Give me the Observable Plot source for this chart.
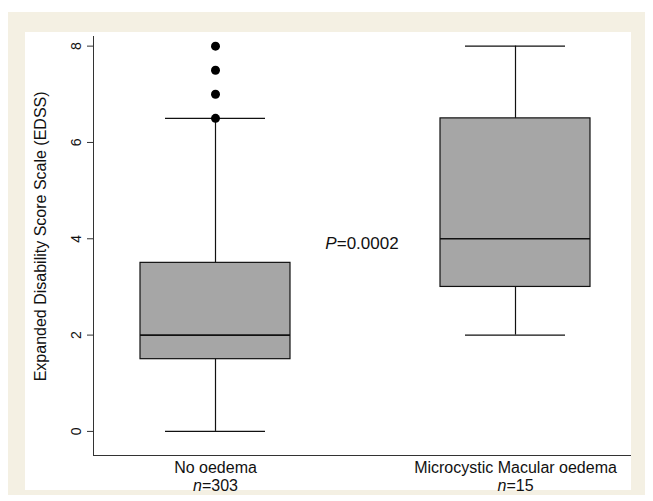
<!DOCTYPE html>
<html><head><meta charset="utf-8">
<script src="https://cdn.jsdelivr.net/npm/d3@7"></script>
<script src="https://cdn.jsdelivr.net/npm/@observablehq/plot@0.6"></script>
<style>
html,body{margin:0;padding:0;background:#fff}
body{width:653px;height:501px;position:relative;overflow:hidden}
#outer{position:absolute;left:8px;top:12px;width:637px;height:483px;background:#f4f0e3}
#inner{position:absolute;left:17px;top:20px;width:606px;height:458px;background:#fff}
#inner svg{display:block}
</style></head><body><div id="outer"><div id="inner"></div></div>
<script>
const groups = ["No oedema", "Microcystic Macular oedema"];
const groupN = [303, 15];
const whiskerLow = [0, 2];
const q1 = [1.5, 3];
const median = [2, 4];
const q3 = [3.5, 6.5];
const whiskerHigh = [6.5, 8];
const outlierGroup = ["No oedema", "No oedema", "No oedema", "No oedema"];
const outlierValue = [6.5, 7, 7.5, 8];
const yTicks = [0, 2, 4, 6, 8];
const pLabel = "P=0.0002";
const pLabelY = 3.9;
const yLabel = "Expanded Disability Score Scale (EDSS)";
const yLabelY = 4.05;

const boxes = groups.map((g, i) => ({group: g, n: groupN[i], lo: whiskerLow[i], q1: q1[i], med: median[i], q3: q3[i], hi: whiskerHigh[i]}));
const outliers = outlierValue.map((v, i) => ({group: outlierGroup[i], value: v}));
const nByGroup = new Map(groups.map((g, i) => [g, groupN[i]]));

const font = "'Liberation Sans', Arial, Helvetica, sans-serif";
const plot = Plot.plot({
  width: 606, height: 458,
  marginTop: 4, marginBottom: 35, marginLeft: 68, marginRight: 1,
  style: {fontFamily: font, background: "transparent", color: "#111", overflow: "visible"},
  x: {type: "band", domain: groups, range: [115, 565], paddingInner: 0.5, paddingOuter: 0},
  y: {domain: [-0.5, 8.2]},
  marks: [
    Plot.frame({anchor: "left", stroke: "#333"}),
    Plot.frame({anchor: "bottom", stroke: "#333"}),
    Plot.ruleX(boxes, {x: "group", y1: "lo", y2: "q1", stroke: "#111", strokeWidth: 1.2}),
    Plot.ruleX(boxes, {x: "group", y1: "q3", y2: "hi", stroke: "#111", strokeWidth: 1.2}),
    Plot.barY(boxes, {x: "group", y1: "q1", y2: "q3", fill: "#a6a6a6", stroke: "#111", strokeWidth: 1.2}),
    Plot.tickY(boxes, {x: "group", y: "med", stroke: "#111", strokeWidth: 1.6}),
    Plot.tickY(boxes, {x: "group", y: "lo", stroke: "#111", strokeWidth: 1.4, insetLeft: 25, insetRight: 25}),
    Plot.tickY(boxes, {x: "group", y: "hi", stroke: "#111", strokeWidth: 1.4, insetLeft: 25, insetRight: 25}),
    Plot.dot(outliers, {x: "group", y: "value", r: 4.5, fill: "#000", stroke: "none"}),
    Plot.axisY({ticks: yTicks, tickSize: 6, tickFormat: () => "", label: null, stroke: "#333"}),
    Plot.text(yTicks, {y: d => d, text: d => String(d), frameAnchor: "left", textAnchor: "middle", lineAnchor: "middle", dx: -17, rotate: -90, fontSize: 14, fill: "#111"}),
    Plot.axisX({tickSize: 0, tickPadding: 4, fontSize: 16, lineHeight: 1.15, label: null,
      tickFormat: d => d + "\n" + "n=" + nByGroup.get(d), fill: "#111"}),
    Plot.text([yLabel], {text: d => d, y: () => yLabelY, frameAnchor: "left", textAnchor: "middle", lineAnchor: "middle", dx: -53, rotate: -90, fontSize: 16, fill: "#111"}),
    Plot.text([pLabel], {text: d => d, y: () => pLabelY, fontSize: 17, fill: "#111"})
  ]
});
document.getElementById("inner").appendChild(plot);

// italicize statistical symbols
d3.select(plot).selectAll("tspan").each(function() {
  const t = this.textContent;
  if (t.startsWith("n=")) {
    const s = d3.select(this); s.text("");
    s.append("tspan").attr("font-style", "italic").text("n");
    s.append("tspan").text(t.slice(1));
  }
});
d3.select(plot).selectAll("text").each(function() {
  const t = this.textContent;
  if (t === pLabel && this.children.length === 0) {
    const s = d3.select(this); s.text("");
    s.append("tspan").attr("font-style", "italic").text("P");
    s.append("tspan").text(t.slice(1));
  }
});
</script>
</body></html>
